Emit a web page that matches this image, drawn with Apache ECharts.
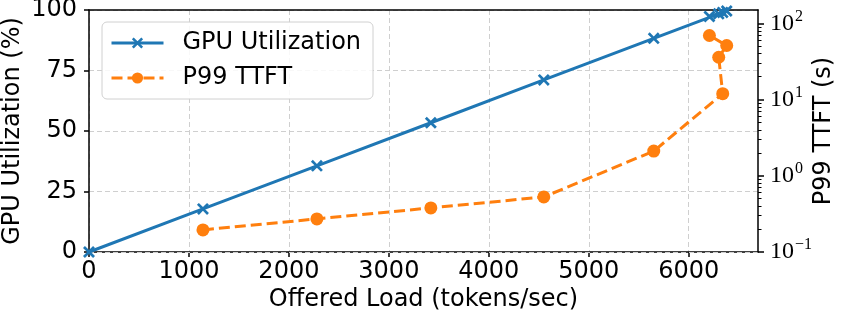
<!DOCTYPE html>
<html>
<head>
<meta charset="utf-8">
<script src="https://cdn.jsdelivr.net/npm/echarts@6/dist/echarts.min.js"></script>
<style>
html,body{margin:0;padding:0;background:#fff;}
#chart{width:848px;height:318px;}
</style>
</head>
<body>
<div id="chart"></div>
<script>
// ---- data ----
const offeredLoad = [0, 1140, 2280, 3420, 4550, 5650, 6340, 6300, 6380, 6207];
const gpuUtil     = [0, 17.8, 35.6, 53.4, 71.1, 88.3, 99.0, 98.4, 99.6, 97.3];
const p99Ttft     = [null, 0.195, 0.272, 0.379, 0.528, 2.11, 11.97, 36, 51.3, 69.4];
const xTicks = [0, 1000, 2000, 3000, 4000, 5000, 6000];
const yTicks = [0, 25, 50, 75, 100];
const logMajorTicks = [0.1, 1, 10, 100];
const logMinorTicks = [0.2,0.3,0.4,0.5,0.6,0.7,0.8,0.9,2,3,4,5,6,7,8,9,20,30,40,50,60,70,80,90];
const supText = {'0.1':'\u22121','1':'0','10':'1','100':'2'};

const FONT = 'DejaVu Sans';
const BLUE = '#1f77b4', ORANGE = '#ff7f0e';
const gridLine = {show:true, lineStyle:{color:'#cfcfcf', type:[5,3], width:1}};
const xMarker = 'path://M0,1.6 L1.6,0 L5,3.4 L8.4,0 L10,1.6 L6.6,5 L10,8.4 L8.4,10 L5,6.6 L1.6,10 L0,8.4 L3.4,5 Z';

const gpuData = offeredLoad.map((x,i)=>[x, gpuUtil[i]]);
const ttftData = offeredLoad.map((x,i)=>[x, p99Ttft[i]]).filter(d=>d[1]!==null);

const chart = echarts.init(document.getElementById('chart'), null, {renderer:'canvas'});
chart.setOption({
  animation:false,
  textStyle:{fontFamily:FONT},
  grid:{left:89, right:90, top:10, bottom:66, show:false, containLabel:false, outerBoundsMode:'none'},
  legend:{
    orient:'vertical', left:102, top:22, z:30,
    padding:[9,12,9,8], itemGap:11, itemWidth:52, itemHeight:14,
    backgroundColor:'rgba(255,255,255,0.85)', borderColor:'#d0d0d0', borderWidth:1, borderRadius:5,
    lineStyle:{width:3},
    textStyle:{fontFamily:FONT, fontSize:24, color:'#000', padding:[0,0,0,14]},
    data:['GPU Utilization','P99 TTFT']
  },
  xAxis:[
    {
      type:'value', min:0, max:6693, interval:1000, position:'bottom',
      name:'Offered Load (tokens/sec)', nameLocation:'middle', nameGap:36, nameMoveOverlap:false,
      nameTextStyle:{fontFamily:FONT, fontSize:24, color:'#000'},
      axisLine:{show:true, onZero:false, lineStyle:{color:'#000', width:1.5}},
      axisTick:{show:true, inside:false, length:5, lineStyle:{color:'#000', width:1.5}, customValues:xTicks},
      axisLabel:{fontFamily:FONT, fontSize:24, color:'#000', margin:8, customValues:xTicks,
                 formatter:function(v){return String(v);}},
      splitLine:gridLine
    },
    {
      type:'value', min:0, max:6693, position:'top', z:5,
      axisLine:{show:true, onZero:false, lineStyle:{color:'#000', width:1.5}},
      axisTick:{show:false}, axisLabel:{show:false}, splitLine:{show:false}
    }
  ],
  yAxis:[
    {
      type:'value', min:0, max:100, interval:25, position:'left', z:5,
      name:'GPU Utilization (%)', nameLocation:'middle', nameGap:64, nameRotate:90, nameMoveOverlap:false,
      nameTextStyle:{fontFamily:FONT, fontSize:24, color:'#000'},
      axisLine:{show:true, onZero:false, lineStyle:{color:'#000', width:1.5}},
      axisTick:{show:true, length:5, lineStyle:{color:'#000', width:1.5}, customValues:yTicks},
      axisLabel:{fontFamily:FONT, fontSize:24, color:'#000', margin:12, customValues:yTicks,
                 formatter:function(v){return String(v);}},
      splitLine:gridLine
    },
    {
      type:'log', logBase:10, min:0.1, max:150, position:'right', z:5,
      name:'P99 TTFT (s)', nameLocation:'middle', nameGap:54, nameRotate:90, nameMoveOverlap:false,
      nameTextStyle:{fontFamily:FONT, fontSize:24, color:'#000'},
      axisLine:{show:true, onZero:false, lineStyle:{color:'#000', width:1.5}},
      axisTick:{show:true, length:6, lineStyle:{color:'#000', width:1.5}, customValues:logMajorTicks},
      axisLabel:{
        margin:12, customValues:logMajorTicks,
        formatter:function(v){
          const key = String(+v.toPrecision(3));
          return '{b|10}{s|' + (supText[key]||'') + '}';
        },
        rich:{
          b:{fontFamily:'Liberation Serif', fontSize:24, color:'#000'},
          s:{fontFamily:'Liberation Serif', fontSize:16, color:'#000', padding:[0,0,14,1]}
        }
      },
      splitLine:{show:false}
    },
    {
      type:'log', logBase:10, min:0.1, max:150, position:'right',
      axisLine:{show:false, onZero:false},
      axisTick:{show:true, length:3.5, lineStyle:{color:'#000', width:1}, customValues:logMinorTicks},
      axisLabel:{show:false},
      splitLine:{show:false}
    }
  ],
  series:[
    {
      name:'GPU Utilization', type:'line', xAxisIndex:0, yAxisIndex:0,
      data:gpuData, symbol:xMarker, symbolSize:12, clip:true,
      lineStyle:{color:BLUE, width:3}, itemStyle:{color:BLUE}, z:10
    },
    {
      name:'P99 TTFT', type:'line', xAxisIndex:0, yAxisIndex:1,
      data:ttftData, symbol:'circle', symbolSize:13, clip:true,
      lineStyle:{color:ORANGE, width:3, type:[11,5]}, itemStyle:{color:ORANGE}, z:11
    }
  ]
});
</script>
</body>
</html>
